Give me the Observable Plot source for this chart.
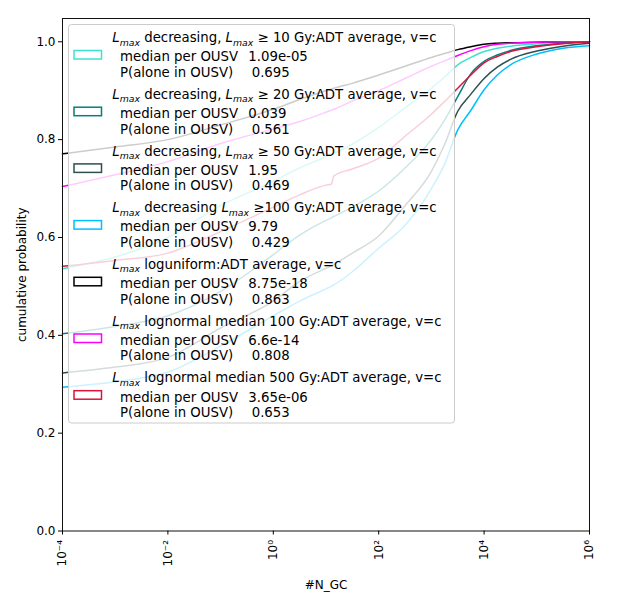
<!DOCTYPE html>
<html><head><meta charset="utf-8">
<script src="https://cdn.jsdelivr.net/npm/d3@7"></script>
<script src="https://cdn.jsdelivr.net/npm/@observablehq/plot@0.6"></script>
<style>body{margin:0;background:#fff} svg{font-family:"DejaVu Sans";}</style>
</head><body><div id="chart"></div>
<script>
// ---- data ----
const nGC = [1e-4, 1e-3, 1e-2, 1e-1, 1, 3.16, 10, 12.6, 14.1, 31.6, 100, 316, 1000, 1778, 3162, 5623, 1e4, 17783, 31623, 1e5, 316228, 1e6];
const cdfDec10   = [0.536,0.560,0.600,0.665,0.715,0.742,0.765,0.770,0.772,0.791,0.825,0.865,0.905,0.928,0.953,0.968,0.980,0.987,0.991,0.996,0.999,1.000];
const cdfDec20   = [0.403,0.418,0.440,0.490,0.565,0.605,0.635,0.640,0.643,0.662,0.695,0.742,0.800,0.840,0.888,0.935,0.960,0.973,0.982,0.992,0.997,1.000];
const cdfDec50   = [0.323,0.335,0.355,0.415,0.470,0.510,0.537,0.542,0.545,0.568,0.603,0.665,0.735,0.790,0.858,0.893,0.925,0.948,0.964,0.981,0.991,0.997];
const cdfDec100  = [0.294,0.305,0.325,0.378,0.440,0.470,0.495,0.500,0.503,0.530,0.578,0.625,0.700,0.750,0.820,0.860,0.902,0.932,0.953,0.975,0.987,0.992];
const cdfLogUni  = [0.771,0.785,0.800,0.830,0.862,0.882,0.900,0.903,0.905,0.915,0.932,0.950,0.968,0.976,0.984,0.990,0.995,0.997,0.998,0.999,1.000,1.000];
const cdfLogN100 = [0.704,0.728,0.755,0.792,0.822,0.837,0.856,0.860,0.862,0.879,0.900,0.925,0.950,0.961,0.972,0.982,0.990,0.995,0.997,0.999,1.000,1.000];
const cdfLogN500 = [0.541,0.553,0.568,0.612,0.662,0.687,0.707,0.709,0.726,0.740,0.762,0.807,0.852,0.878,0.905,0.932,0.957,0.970,0.980,0.990,0.996,1.000];

const seriesNames = ["dec10", "dec20", "dec50", "dec100", "loguniform", "lognormal100", "lognormal500"];
const seriesColors = ["#40E0D0", "#008080", "#2F4F4F", "#00BFFF", "#000000", "#FF00FF", "#DC143C"];
const legendTitles = [
  "{L} decreasing, {L} ≥ 10 Gy:ADT average, v=c",
  "{L} decreasing, {L} ≥ 20 Gy:ADT average, v=c",
  "{L} decreasing, {L} ≥ 50 Gy:ADT average, v=c",
  "{L} decreasing {L} ≥100 Gy:ADT average, v=c",
  "{L} loguniform:ADT average, v=c",
  "{L} lognormal median 100 Gy:ADT average, v=c",
  "{L} lognormal median 500 Gy:ADT average, v=c"
];
const medianPerOUSV = ["1.09e-05", "0.039", "1.95", "9.79", "8.75e-18", "6.6e-14", "3.65e-06"];
const pAlone = ["0.695", "0.561", "0.469", "0.429", "0.863", "0.808", "0.653"];
const xTicks = [1e-4, 1e-2, 1, 1e2, 1e4, 1e6];
const xTickLabels = ["10⁻⁴", "10⁻²", "10⁰", "10²", "10⁴", "10⁶"];
const yTicks = [0, 0.2, 0.4, 0.6, 0.8, 1.0];

// ---- build ----
const series = [cdfDec10, cdfDec20, cdfDec50, cdfDec100, cdfLogUni, cdfLogN100, cdfLogN500];
const rows = series.flatMap((ys, i) => ys.map((y, j) => ({name: seriesNames[i], x: nGC[j], y})));

const chart = Plot.plot({
  width: 622, height: 604,
  marginLeft: 62, marginRight: 33, marginTop: 18, marginBottom: 73.5,
  style: {fontFamily: "DejaVu Sans", fontSize: "12px", color: "#000", background: "#fff"},
  x: {type: "log", domain: [1e-4, 1e6]},
  y: {domain: [0, 1.0476]},
  color: {domain: seriesNames, range: seriesColors},
  marks: [
    Plot.line(rows, {x: "x", y: "y", z: "name", stroke: "name", strokeWidth: 1.5, curve: "monotone-x"}),
    Plot.frame({stroke: "#111", strokeWidth: 1}),
    Plot.axisY({ticks: yTicks, tickFormat: d3.format(".1f"), tickSize: 4, tickPadding: 3,
      label: "cumulative probability", labelAnchor: "center", labelArrow: "none", labelOffset: 45}),
    Plot.axisX({ticks: xTicks, tickFormat: d => xTickLabels[xTicks.indexOf(d)], tickSize: 4, tickRotate: -90,
      label: "#N_GC", labelAnchor: "center", labelArrow: "none", labelOffset: 58})
  ]
});

// ---- legend inside the axes ----
const g = d3.select(chart).append("g").attr("font-family", "DejaVu Sans").attr("font-size", 13.3)
  .attr("fill", "#000").attr("text-anchor", "start");
g.append("rect").attr("x", 68.5).attr("y", 24.5).attr("width", 386).attr("height", 398.5).attr("rx", 3)
  .attr("fill", "#fff").attr("fill-opacity", 0.8).attr("stroke", "#cccccc");
seriesNames.forEach((n, i) => {
  const y0 = 37.5 + 56.7 * i;
  g.append("rect").attr("x", 74).attr("y", y0 + 13).attr("width", 27.5).attr("height", 8.5)
    .attr("fill", "none").attr("stroke", seriesColors[i]).attr("stroke-width", 1.5);
  const t = g.append("text").attr("x", 112.3).attr("y", y0).attr("dy", "0.35em");
  let shift = 0;
  legendTitles[i].split(/(\{L\})/).forEach(part => {
    if (part === "{L}") {
      t.append("tspan").attr("font-style", "italic").attr("dy", shift ? -shift : null).text("L");
      t.append("tspan").attr("font-style", "italic").attr("font-size", 9.3).attr("dy", 3.5).text("max");
      shift = 3.5;
    } else if (part) {
      t.append("tspan").attr("dy", shift ? -shift : null).text(part);
      shift = 0;
    }
  });
  g.append("text").attr("x", 120).attr("y", y0 + 19.2).attr("dy", "0.35em").text("median per OUSV");
  g.append("text").attr("x", 248.3).attr("y", y0 + 19.2).attr("dy", "0.35em").text(medianPerOUSV[i]);
  g.append("text").attr("x", 120).attr("y", y0 + 34.8).attr("dy", "0.35em").text("P(alone in OUSV)");
  g.append("text").attr("x", 251.7).attr("y", y0 + 34.8).attr("dy", "0.35em").text(pAlone[i]);
});

document.getElementById("chart").append(chart);
</script>
</body></html>
